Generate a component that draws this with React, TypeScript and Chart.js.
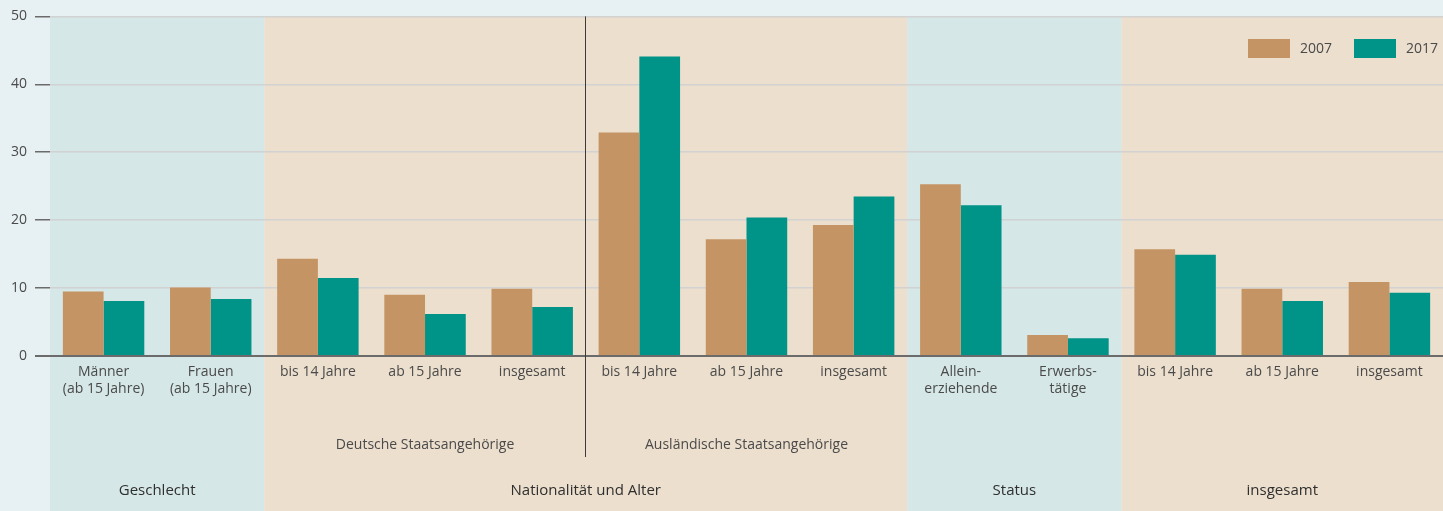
import React, { useEffect, useRef } from "react";
import { Chart, registerables } from "chart.js";

Chart.register(...registerables);

const categories: string[][] = [
  ["Männer", "(ab 15 Jahre)"],
  ["Frauen", "(ab 15 Jahre)"],
  ["bis 14 Jahre"],
  ["ab 15 Jahre"],
  ["insgesamt"],
  ["bis 14 Jahre"],
  ["ab 15 Jahre"],
  ["insgesamt"],
  ["Allein-", "erziehende"],
  ["Erwerbs-", "tätige"],
  ["bis 14 Jahre"],
  ["ab 15 Jahre"],
  ["insgesamt"],
];

const values2007: number[] = [9.5, 10.1, 14.3, 9.0, 9.9, 32.9, 17.2, 19.3, 25.3, 3.1, 15.7, 9.9, 10.9];
const values2017: number[] = [8.1, 8.4, 11.5, 6.2, 7.2, 44.1, 20.4, 23.5, 22.2, 2.6, 14.9, 8.1, 9.3];

const seriesLabels: string[] = ["2007", "2017"];
const seriesColors: string[] = ["#c49465", "#009388"];

// sections: [label, firstIndex, lastIndex, band colour]
const sections: [string, number, number, string][] = [
  ["Geschlecht", 0, 1, "#d5e7e6"],
  ["Nationalität und Alter", 2, 7, "#ecdfcd"],
  ["Status", 8, 9, "#d5e7e6"],
  ["insgesamt", 10, 12, "#ecdfcd"],
];

const subGroups: [string, number, number][] = [
  ["Deutsche Staatsangehörige", 2, 4],
  ["Ausländische Staatsangehörige", 5, 7],
];

const dividerAfter = 4;

const FONT = "'Open Sans', 'DejaVu Sans', sans-serif";
const TEXT = "#4a4a4a";

export default function App() {
  const ref = useRef<HTMLCanvasElement | null>(null);

  useEffect(() => {
    document.body.style.margin = "0";
    const canvas = ref.current!;

    const bandPlugin = {
      id: "bands",
      beforeDraw(chart: any) {
        const { ctx, chartArea, scales } = chart;
        const x = scales.x;
        ctx.save();
        ctx.fillStyle = "#e7f0f2";
        ctx.fillRect(0, 0, chart.width, chart.height);
        const half = (x.getPixelForValue(1) - x.getPixelForValue(0)) / 2;
        for (const [, a, b, col] of sections) {
          const l = x.getPixelForValue(a) - half;
          const r = x.getPixelForValue(b) + half;
          ctx.fillStyle = col;
          ctx.fillRect(l, chartArea.top, r - l, chart.height - chartArea.top);
        }
        ctx.restore();
      },
      afterDraw(chart: any) {
        const { ctx, chartArea, scales } = chart;
        const x = scales.x;
        const half = (x.getPixelForValue(1) - x.getPixelForValue(0)) / 2;
        ctx.save();
        // divider
        const dx = Math.round(x.getPixelForValue(dividerAfter) + half) - 0.5;
        ctx.strokeStyle = "#3a3a3a";
        ctx.lineWidth = 1;
        ctx.beginPath();
        ctx.moveTo(dx, chartArea.top);
        ctx.lineTo(dx, 457);
        ctx.stroke();

        ctx.fillStyle = TEXT;
        ctx.textAlign = "center";
        ctx.textBaseline = "middle";
        ctx.font = `14px ${FONT}`;
        for (const [label, a, b] of subGroups) {
          const cx = (x.getPixelForValue(a) + x.getPixelForValue(b)) / 2;
          ctx.fillText(label, cx, 445);
        }
        ctx.fillStyle = "#2f2f2f";
        ctx.font = `15px ${FONT}`;
        for (const [label, a, b] of sections) {
          const cx = (x.getPixelForValue(a) + x.getPixelForValue(b)) / 2;
          ctx.fillText(label, cx, 491);
        }

        // legend
        ctx.font = `14px ${FONT}`;
        ctx.textAlign = "left";
        ctx.fillStyle = TEXT;
        const ds = chart.data.datasets;
        const starts = [1248, 1354];
        ds.forEach((d: any, i: number) => {
          ctx.fillStyle = d.backgroundColor;
          ctx.fillRect(starts[i], 39, 42, 19);
          ctx.fillStyle = TEXT;
          ctx.fillText(d.label, starts[i] + 52, 49);
        });
        ctx.restore();
      },
    };

    const chart = new Chart(canvas, {
      type: "bar",
      data: {
        labels: categories,
        datasets: [
          { label: seriesLabels[0], data: values2007, backgroundColor: seriesColors[0] },
          { label: seriesLabels[1], data: values2017, backgroundColor: seriesColors[1] },
        ],
      },
      options: {
        responsive: false,
        animation: false,
        devicePixelRatio: 1,
        layout: { padding: { top: 16, right: 0, left: 0, bottom: 0 } },
        datasets: { bar: { categoryPercentage: 0.76, barPercentage: 1 } },
        plugins: { legend: { display: false }, tooltip: { enabled: false } },
        scales: {
          x: {
            grid: { display: false },
            border: { display: false },
            ticks: {
              autoSkip: false,
              maxRotation: 0,
              minRotation: 0,
              padding: 0,
              color: TEXT,
              font: { family: FONT, size: 14, lineHeight: 1.2 },
            },
            afterFit(scale: any) {
              scale.height = 155;
            },
          },
          y: {
            min: 0,
            max: 50,
            border: { display: false },
            grid: {
              color: (c: any) => (c.tick && c.tick.value === 0 ? "#6b6b6b" : "#d2d2d2"),
              lineWidth: (c: any) => (c.tick && c.tick.value === 0 ? 2 : 1.5),
              tickColor: "#6b6b6b",
              tickLength: 15,
              drawTicks: true,
            },
            ticks: {
              stepSize: 10,
              padding: 8,
              color: TEXT,
              font: { family: FONT, size: 14 },
            },
            afterFit(scale: any) {
              scale.width = 50;
            },
          },
        },
      },
      plugins: [bandPlugin],
    });

    return () => chart.destroy();
  }, []);

  return (
    <div style={{ width: 1443, height: 511 }}>
      <canvas ref={ref} width={1443} height={511} />
    </div>
  );
}
